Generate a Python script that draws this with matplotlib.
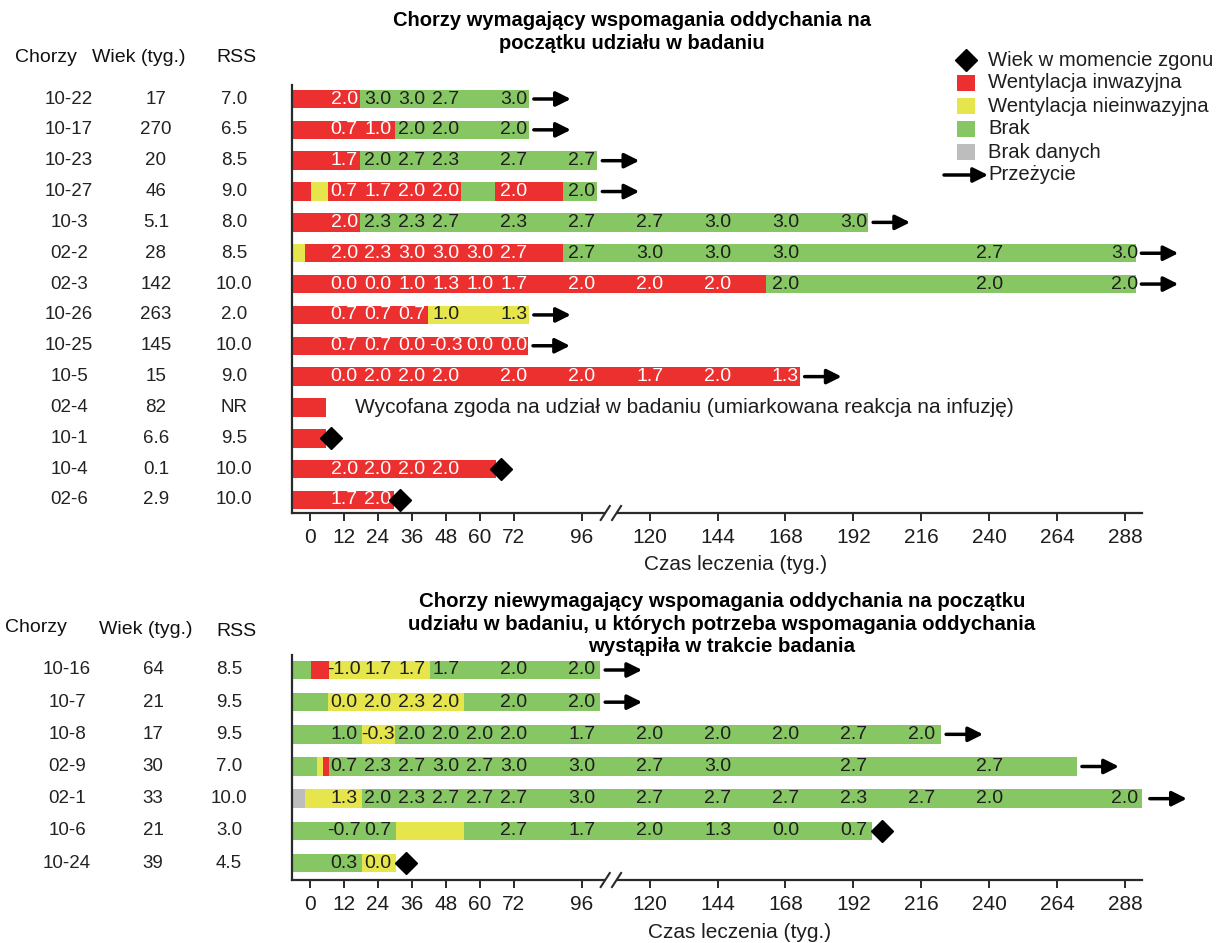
import matplotlib
matplotlib.use("Agg")
import matplotlib.pyplot as plt
from matplotlib import font_manager
from matplotlib.transforms import blended_transform_factory
from matplotlib.patches import Rectangle
from matplotlib.lines import Line2D

plt.rcParams['font.family'] = ['Liberation Sans', 'DejaVu Sans']
_names = {f.name for f in font_manager.fontManager.ttflist}
NARROW = 'Liberation Sans Narrow' if 'Liberation Sans Narrow' in _names else 'Liberation Sans'

# ---------------------------------------------------------------- data
# states: I = invasive ventilation, N = non-invasive, B = none, D = no data
COLORS = {'I': '#EC3030', 'N': '#E6E64C', 'B': '#86C763', 'D': '#BDBDBD'}

x_ticks = [0, 12, 24, 36, 48, 60, 72, 96, 120, 144, 168, 192, 216, 240, 264, 288]

# --- patients requiring ventilation at enrolment
top_ids = ["10-22", "10-17", "10-23", "10-27", "10-3", "02-2", "02-3",
           "10-26", "10-25", "10-5", "02-4", "10-1", "10-4", "02-6"]
top_age = ["17", "270", "20", "46", "5.1", "28", "142",
           "263", "145", "15", "82", "6.6", "0.1", "2.9"]
top_rss = ["7.0", "6.5", "8.5", "9.0", "8.0", "8.5", "10.0",
           "2.0", "10.0", "9.0", "NR", "9.5", "10.0", "10.0"]
top_segments = [
    [('I', 17.6), ('B', 77.3)],
    [('I', 29.9), ('B', 77.3)],
    [('I', 17.8), ('B', 101.5)],
    [('I', 0.2), ('N', 6.2), ('I', 53.4), ('B', 65.4), ('I', 89.3), ('B', 101.5)],
    [('I', 17.8), ('B', 197.2)],
    [('N', -1.8), ('I', 89.3), ('B', 292.0)],
    [('I', 161.0), ('B', 292.0)],
    [('I', 41.5), ('N', 77.3)],
    [('I', 77.0)],
    [('I', 173.0)],
    [('I', 5.5)],
    [('I', 5.5)],
    [('I', 65.6)],
    [('I', 29.6)],
]
top_scores = [
    [(12, '2.0'), (24, '3.0'), (36, '3.0'), (48, '2.7'), (72, '3.0')],
    [(12, '0.7'), (24, '1.0'), (36, '2.0'), (48, '2.0'), (72, '2.0')],
    [(12, '1.7'), (24, '2.0'), (36, '2.7'), (48, '2.3'), (72, '2.7'), (96, '2.7')],
    [(12, '0.7'), (24, '1.7'), (36, '2.0'), (48, '2.0'), (72, '2.0'), (96, '2.0')],
    [(12, '2.0'), (24, '2.3'), (36, '2.3'), (48, '2.7'), (72, '2.3'), (96, '2.7'),
     (120, '2.7'), (144, '3.0'), (168, '3.0'), (192, '3.0')],
    [(12, '2.0'), (24, '2.3'), (36, '3.0'), (48, '3.0'), (60, '3.0'), (72, '2.7'),
     (96, '2.7'), (120, '3.0'), (144, '3.0'), (168, '3.0'), (240, '2.7'), (288, '3.0')],
    [(12, '0.0'), (24, '0.0'), (36, '1.0'), (48, '1.3'), (60, '1.0'), (72, '1.7'),
     (96, '2.0'), (120, '2.0'), (144, '2.0'), (168, '2.0'), (240, '2.0'), (288, '2.0')],
    [(12, '0.7'), (24, '0.7'), (36, '0.7'), (48, '1.0'), (72, '1.3')],
    [(12, '0.7'), (24, '0.7'), (36, '0.0'), (48, '-0.3'), (60, '0.0'), (72, '0.0')],
    [(12, '0.0'), (24, '2.0'), (36, '2.0'), (48, '2.0'), (72, '2.0'), (96, '2.0'),
     (120, '1.7'), (144, '2.0'), (168, '1.3')],
    [],
    [],
    [(12, '2.0'), (24, '2.0'), (36, '2.0'), (48, '2.0')],
    [(12, '1.7'), (24, '2.0')],
]
top_outcome = ['alive'] * 10 + ['withdrawn', 'dead', 'dead', 'dead']
top_death_week = [None] * 11 + [7.3, 67.4, 31.9]
withdrawn_note = "Wycofana zgoda na udział w badaniu (umiarkowana reakcja na infuzję)"

# --- patients who needed ventilation only later in the study
bot_ids = ["10-16", "10-7", "10-8", "02-9", "02-1", "10-6", "10-24"]
bot_age = ["64", "21", "17", "30", "33", "21", "39"]
bot_rss = ["8.5", "9.5", "9.5", "7.0", "10.0", "3.0", "4.5"]
bot_segments = [
    [('B', 0.2), ('I', 6.7), ('N', 42.4), ('B', 102.5)],
    [('B', 6.2), ('N', 54.5), ('B', 102.5)],
    [('B', 18.4), ('N', 29.9), ('B', 223.0)],
    [('B', 2.6), ('N', 4.7), ('I', 6.8), ('B', 271.0)],
    [('D', -1.8), ('N', 18.5), ('B', 295.0)],
    [('B', 30.2), ('N', 54.5), ('B', 198.6)],
    [('B', 18.5), ('N', 30.2)],
]
bot_scores = [
    [(12, '-1.0'), (24, '1.7'), (36, '1.7'), (48, '1.7'), (72, '2.0'), (96, '2.0')],
    [(12, '0.0'), (24, '2.0'), (36, '2.3'), (48, '2.0'), (72, '2.0'), (96, '2.0')],
    [(12, '1.0'), (24, '-0.3'), (36, '2.0'), (48, '2.0'), (60, '2.0'), (72, '2.0'),
     (96, '1.7'), (120, '2.0'), (144, '2.0'), (168, '2.0'), (192, '2.7'), (216, '2.0')],
    [(12, '0.7'), (24, '2.3'), (36, '2.7'), (48, '3.0'), (60, '2.7'), (72, '3.0'),
     (96, '3.0'), (120, '2.7'), (144, '3.0'), (192, '2.7'), (240, '2.7')],
    [(12, '1.3'), (24, '2.0'), (36, '2.3'), (48, '2.7'), (60, '2.7'), (72, '2.7'),
     (96, '3.0'), (120, '2.7'), (144, '2.7'), (168, '2.7'), (192, '2.3'), (216, '2.7'),
     (240, '2.0'), (288, '2.0')],
    [(12, '-0.7'), (24, '0.7'), (72, '2.7'), (96, '1.7'), (120, '2.0'), (144, '1.3'),
     (168, '0.0'), (192, '0.7')],
    [(12, '0.3'), (24, '0.0')],
]
bot_outcome = ['alive'] * 5 + ['dead', 'dead']
bot_death_week = [None] * 5 + [202.0, 34.0]

legend_labels = ["Wiek w momencie zgonu", "Wentylacja inwazyjna",
                 "Wentylacja nieinwazyjna", "Brak", "Brak danych", "Przeżycie"]

# ---------------------------------------------------------------- layout
W, H = 1224, 943
X0, X1 = -6.4, 294.0
PX_PER_WEEK = 850 / (X1 - X0)
ARROW = dict(arrowstyle='-|>', color='black', lw=2.5, mutation_scale=22,
             shrinkA=0, shrinkB=0)
fig = plt.figure(figsize=(W / 100, H / 100), dpi=100)


def frac(left, top, right, bottom):
    return [left / W, 1 - bottom / H, (right - left) / W, (bottom - top) / H]


ax_top = fig.add_axes(frac(292, 85, 1142, 513))
ax_bot = fig.add_axes(frac(292, 655, 1142, 880))
ov = fig.add_axes([0, 0, 1, 1], zorder=10)
ov.set_xlim(0, W)
ov.set_ylim(H, 0)
ov.axis('off')


def state_at(segs, t):
    start = X0
    for st, end in segs:
        if start <= t <= end:
            return st
        start = end
    return segs[-1][0]


def draw_panel(ax, ids, segments, scores, outcome, death_week,
               row_top_px, row_bot_px, ax_top_px, ax_bot_px):
    n = len(ids)
    step = (row_bot_px - row_top_px) / (n - 1)
    ax.set_ylim(n - 1 + (ax_bot_px - row_bot_px) / step, -(row_top_px - ax_top_px) / step)
    ax.set_xlim(X0, X1)
    bar_h = 18.5 / step
    for i in range(n):
        start = X0
        for st, end in segments[i]:
            ax.barh(i, end - start, left=start, height=bar_h, color=COLORS[st],
                    edgecolor='none', zorder=2)
            start = end
        bar_end = start
        for t, txt in scores[i]:
            col = 'white' if state_at(segments[i], t) == 'I' else '#1e1e1e'
            ax.text(t, i, txt, ha='center', va='center', fontsize=14,
                    color=col, zorder=3)
        if outcome[i] == 'alive':
            gap, length = 5 / PX_PER_WEEK, 37 / PX_PER_WEEK
            ax.annotate('', xy=(bar_end + gap + length, i), xytext=(bar_end + gap, i),
                        arrowprops=ARROW, annotation_clip=False, zorder=4)
        elif outcome[i] == 'dead':
            ax.plot(death_week[i], i, marker='D', ms=11.5, color='black',
                    clip_on=False, zorder=4)
        elif outcome[i] == 'withdrawn':
            ax.text(bar_end + 10.5, i, withdrawn_note, ha='left', va='center',
                    fontsize=15, color='#1e1e1e')
    # axis styling
    for side in ('top', 'right'):
        ax.spines[side].set_visible(False)
    for side in ('left', 'bottom'):
        ax.spines[side].set_linewidth(1.6)
        ax.spines[side].set_color('#2a2a2a')
    ax.set_yticks([])
    ax.set_xticks(x_ticks)
    ax.set_xticklabels([str(t) for t in x_ticks], fontfamily=NARROW)
    ax.tick_params(axis='x', direction='out', length=6, width=1.4, color='#2a2a2a',
                   labelsize=15, pad=5, labelcolor='#1e1e1e')
    ax.set_facecolor('none')
    # axis break marks between 96 and 120
    h_ax = ax.get_position().height * H
    bt = blended_transform_factory(ax.transData, ax.transAxes)
    ax.add_patch(Rectangle((104.6, -3 / h_ax), 3.4, 6 / h_ax, transform=bt,
                           facecolor='white', edgecolor='none', clip_on=False, zorder=5))
    for xb in (104.3, 108.3):
        ax.add_line(Line2D([xb - 1.6, xb + 1.6], [-7 / h_ax, 7 / h_ax], transform=bt,
                           color='#2a2a2a', lw=1.5, clip_on=False, zorder=6))
    return blended_transform_factory(ov.transData, ax.transData)


tr_top = draw_panel(ax_top, top_ids, top_segments, top_scores,
                    top_outcome, top_death_week, 99, 500, 85, 513)
tr_bot = draw_panel(ax_bot, bot_ids, bot_segments, bot_scores,
                    bot_outcome, bot_death_week, 670, 863, 655, 880)

# patient columns
col_kw = dict(ha='center', va='center', fontsize=13.5, color='#222222')
for i in range(len(top_ids)):
    ov.text(69, i, top_ids[i], transform=tr_top, **col_kw)
    ov.text(156, i, top_age[i], transform=tr_top, **col_kw)
    ov.text(234, i, top_rss[i], transform=tr_top, **col_kw)
for i in range(len(bot_ids)):
    ov.text(67, i, bot_ids[i], transform=tr_bot, **col_kw)
    ov.text(153, i, bot_age[i], transform=tr_bot, **col_kw)
    ov.text(229, i, bot_rss[i], transform=tr_bot, **col_kw)

hdr_kw = dict(ha='center', va='center', fontsize=14, color='#111111')
ov.text(46, 58, "Chorzy", **hdr_kw)
ov.text(139, 58, "Wiek (tyg.)", **hdr_kw)
ov.text(236, 58, "RSS", **hdr_kw)
ov.text(36, 628, "Chorzy", **hdr_kw)
ov.text(146, 630, "Wiek (tyg.)", **hdr_kw)
ov.text(236, 631, "RSS", **hdr_kw)

# titles
ov.text(632, 32, "Chorzy wymagający wspomagania oddychania na\npoczątku udziału w badaniu",
        ha='center', va='center', fontsize=14.5, fontweight='bold', linespacing=1.3)
ov.text(722, 624, "Chorzy niewymagający wspomagania oddychania na początku\n"
        "udziału w badaniu, u których potrzeba wspomagania oddychania\n"
        "wystąpiła w trakcie badania",
        ha='center', va='center', fontsize=14.7, fontweight='bold', linespacing=1.25)

# axis titles
ov.text(736, 565, "Czas leczenia (tyg.)", ha='center', va='center', fontsize=15,
        fontfamily=NARROW, color='#1e1e1e')
ov.text(740, 933, "Czas leczenia (tyg.)", ha='center', va='center', fontsize=15,
        fontfamily=NARROW, color='#1e1e1e')

# legend
leg_y = [60, 83, 106, 129, 152, 175]
ov.plot(966, leg_y[0], marker='D', ms=11.5, color='black')
for y, key in zip(leg_y[1:5], ['I', 'N', 'B', 'D']):
    ov.add_patch(Rectangle((957, y - 8), 18, 16, facecolor=COLORS[key], edgecolor='none'))
ov.annotate('', xy=(988, leg_y[5]), xytext=(944, leg_y[5]), arrowprops=ARROW)
for y, lab in zip(leg_y, legend_labels):
    ov.text(988, y, lab, ha='left', va='center', fontsize=14.6, color='#1e1e1e')

fig.savefig('out.png', dpi=100)
